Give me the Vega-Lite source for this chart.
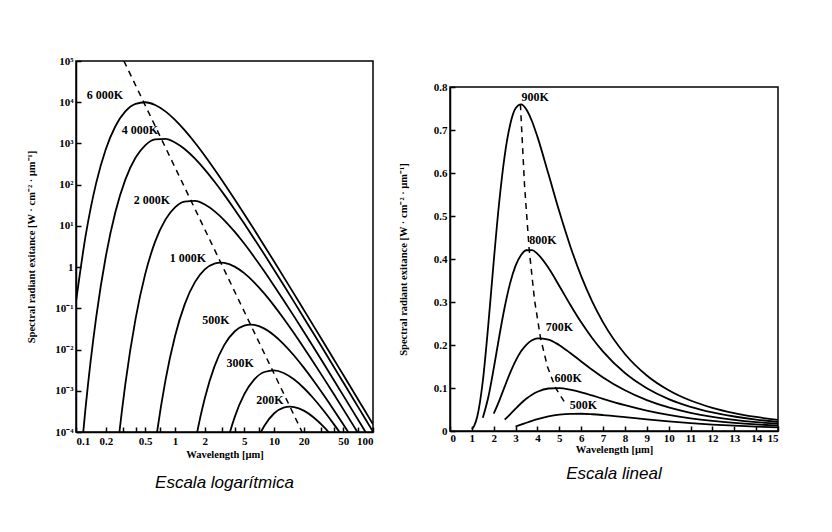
{
  "$schema": "https://vega.github.io/schema/vega-lite/v6.json",
  "background": "white",
  "autosize": {"type": "pad"},
  "padding": {"left": 25, "top": 54, "right": 5, "bottom": 5},
  "config": {
    "view": {"stroke": "black", "strokeWidth": 1.5},
    "axis": {
      "domainColor": "black", "domainWidth": 1.5,
      "tickColor": "black", "tickWidth": 1.5, "tickSize": -5,
      "labelColor": "black", "labelFont": "Liberation Serif", "labelFontWeight": "bold", "labelFontSize": 11,
      "titleColor": "black", "titleFont": "Liberation Serif", "titleFontWeight": "bold", "titleFontSize": 10.5,
      "grid": false, "labelOverlap": false
    },
    "title": {"font": "Liberation Sans", "fontStyle": "italic", "fontWeight": "normal", "fontSize": 17, "color": "black", "orient": "bottom"}
  },
  "datasets": {
    "logCurves": [
      {"T": "6000K", "lam": 0.1, "M": 0.144},
      {"T": "6000K", "lam": 0.125, "M": 5.71},
      {"T": "6000K", "lam": 0.16, "M": 110.5},
      {"T": "6000K", "lam": 0.2, "M": 726},
      {"T": "6000K", "lam": 0.25, "M": 2616},
      {"T": "6000K", "lam": 0.315, "M": 5966},
      {"T": "6000K", "lam": 0.4, "M": 9127},
      {"T": "6000K", "lam": 0.5, "M": 9975},
      {"T": "6000K", "lam": 0.63, "M": 8577},
      {"T": "6000K", "lam": 0.8, "M": 5997},
      {"T": "6000K", "lam": 1, "M": 3742},
      {"T": "6000K", "lam": 1.25, "M": 2110},
      {"T": "6000K", "lam": 1.6, "M": 1027},
      {"T": "6000K", "lam": 2, "M": 505},
      {"T": "6000K", "lam": 2.5, "M": 238},
      {"T": "6000K", "lam": 3.15, "M": 105.8},
      {"T": "6000K", "lam": 4, "M": 44.5},
      {"T": "6000K", "lam": 5, "M": 19.45},
      {"T": "6000K", "lam": 6.3, "M": 8.14},
      {"T": "6000K", "lam": 8, "M": 3.27},
      {"T": "6000K", "lam": 10, "M": 1.381},
      {"T": "6000K", "lam": 12.5, "M": 0.58},
      {"T": "6000K", "lam": 16, "M": 0.2208},
      {"T": "6000K", "lam": 20, "M": 0.0918},
      {"T": "6000K", "lam": 25, "M": 0.0381},
      {"T": "6000K", "lam": 31.5, "M": 0.01526},
      {"T": "6000K", "lam": 40, "M": 0.00591},
      {"T": "6000K", "lam": 50, "M": 0.002437},
      {"T": "6000K", "lam": 63, "M": 0.000972},
      {"T": "6000K", "lam": 80, "M": 0.000375},
      {"T": "6000K", "lam": 100, "M": 0.000154},
      {"T": "4000K", "lam": 0.1, "M": 8.9e-7},
      {"T": "4000K", "lam": 0.125, "M": 0.000391},
      {"T": "4000K", "lam": 0.16, "M": 0.0615},
      {"T": "4000K", "lam": 0.2, "M": 1.807},
      {"T": "4000K", "lam": 0.25, "M": 21.62},
      {"T": "4000K", "lam": 0.315, "M": 132.6},
      {"T": "4000K", "lam": 0.4, "M": 454.5},
      {"T": "4000K", "lam": 0.5, "M": 900},
      {"T": "4000K", "lam": 0.63, "M": 1254},
      {"T": "4000K", "lam": 0.8, "M": 1288},
      {"T": "4000K", "lam": 1, "M": 1054},
      {"T": "4000K", "lam": 1.25, "M": 731},
      {"T": "4000K", "lam": 1.6, "M": 421},
      {"T": "4000K", "lam": 2, "M": 232},
      {"T": "4000K", "lam": 2.5, "M": 119.2},
      {"T": "4000K", "lam": 3.15, "M": 56.6},
      {"T": "4000K", "lam": 4, "M": 25.06},
      {"T": "4000K", "lam": 5, "M": 11.37},
      {"T": "4000K", "lam": 6.3, "M": 4.9},
      {"T": "4000K", "lam": 8, "M": 2.012},
      {"T": "4000K", "lam": 10, "M": 0.864},
      {"T": "4000K", "lam": 12.5, "M": 0.368},
      {"T": "4000K", "lam": 16, "M": 0.1416},
      {"T": "4000K", "lam": 20, "M": 0.0594},
      {"T": "4000K", "lam": 25, "M": 0.02476},
      {"T": "4000K", "lam": 31.5, "M": 0.00998},
      {"T": "4000K", "lam": 40, "M": 0.003886},
      {"T": "4000K", "lam": 50, "M": 0.001605},
      {"T": "4000K", "lam": 63, "M": 0.000642},
      {"T": "4000K", "lam": 80, "M": 0.000248},
      {"T": "4000K", "lam": 100, "M": 0.000102},
      {"T": "2000K", "lam": 0.2, "M": 2.82e-8},
      {"T": "2000K", "lam": 0.25, "M": 0.00001219},
      {"T": "2000K", "lam": 0.315, "M": 0.001456},
      {"T": "2000K", "lam": 0.4, "M": 0.0565},
      {"T": "2000K", "lam": 0.5, "M": 0.6755},
      {"T": "2000K", "lam": 0.63, "M": 4.143},
      {"T": "2000K", "lam": 0.8, "M": 14.2},
      {"T": "2000K", "lam": 1, "M": 28.12},
      {"T": "2000K", "lam": 1.25, "M": 38.95},
      {"T": "2000K", "lam": 1.6, "M": 40.25},
      {"T": "2000K", "lam": 2, "M": 32.96},
      {"T": "2000K", "lam": 2.5, "M": 22.85},
      {"T": "2000K", "lam": 3.15, "M": 13.69},
      {"T": "2000K", "lam": 4, "M": 7.252},
      {"T": "2000K", "lam": 5, "M": 3.724},
      {"T": "2000K", "lam": 6.3, "M": 1.768},
      {"T": "2000K", "lam": 8, "M": 0.783},
      {"T": "2000K", "lam": 10, "M": 0.3553},
      {"T": "2000K", "lam": 12.5, "M": 0.1576},
      {"T": "2000K", "lam": 16, "M": 0.0629},
      {"T": "2000K", "lam": 20, "M": 0.02701},
      {"T": "2000K", "lam": 25, "M": 0.01149},
      {"T": "2000K", "lam": 31.5, "M": 0.004704},
      {"T": "2000K", "lam": 40, "M": 0.001855},
      {"T": "2000K", "lam": 50, "M": 0.000774},
      {"T": "2000K", "lam": 63, "M": 0.000312},
      {"T": "2000K", "lam": 80, "M": 0.0001214},
      {"T": "2000K", "lam": 100, "M": 0.0000502},
      {"T": "1000K", "lam": 0.5, "M": 3.8e-7},
      {"T": "1000K", "lam": 0.63, "M": 0.0000455},
      {"T": "1000K", "lam": 0.8, "M": 0.001765},
      {"T": "1000K", "lam": 1, "M": 0.02111},
      {"T": "1000K", "lam": 1.25, "M": 0.123},
      {"T": "1000K", "lam": 1.6, "M": 0.4437},
      {"T": "1000K", "lam": 2, "M": 0.879},
      {"T": "1000K", "lam": 2.5, "M": 1.217},
      {"T": "1000K", "lam": 2.9, "M": 1.286},
      {"T": "1000K", "lam": 3.15, "M": 1.266},
      {"T": "1000K", "lam": 4, "M": 1.03},
      {"T": "1000K", "lam": 5, "M": 0.714},
      {"T": "1000K", "lam": 6.3, "M": 0.4279},
      {"T": "1000K", "lam": 8, "M": 0.2266},
      {"T": "1000K", "lam": 10, "M": 0.1164},
      {"T": "1000K", "lam": 12.5, "M": 0.05675},
      {"T": "1000K", "lam": 16, "M": 0.02448},
      {"T": "1000K", "lam": 20, "M": 0.0111},
      {"T": "1000K", "lam": 25, "M": 0.004926},
      {"T": "1000K", "lam": 31.5, "M": 0.002085},
      {"T": "1000K", "lam": 40, "M": 0.000844},
      {"T": "1000K", "lam": 50, "M": 0.000359},
      {"T": "1000K", "lam": 63, "M": 0.000147},
      {"T": "1000K", "lam": 80, "M": 0.000058},
      {"T": "1000K", "lam": 100, "M": 0.0000242},
      {"T": "500K", "lam": 1.25, "M": 1.23e-6},
      {"T": "500K", "lam": 1.6, "M": 0.0000552},
      {"T": "500K", "lam": 1.8, "M": 0.000226},
      {"T": "500K", "lam": 2, "M": 0.00066},
      {"T": "500K", "lam": 2.5, "M": 0.003842},
      {"T": "500K", "lam": 3.15, "M": 0.01301},
      {"T": "500K", "lam": 4, "M": 0.02746},
      {"T": "500K", "lam": 5, "M": 0.03802},
      {"T": "500K", "lam": 5.8, "M": 0.0402},
      {"T": "500K", "lam": 6.3, "M": 0.03955},
      {"T": "500K", "lam": 8, "M": 0.03218},
      {"T": "500K", "lam": 10, "M": 0.02232},
      {"T": "500K", "lam": 12.5, "M": 0.01363},
      {"T": "500K", "lam": 16, "M": 0.007082},
      {"T": "500K", "lam": 20, "M": 0.003637},
      {"T": "500K", "lam": 25, "M": 0.001773},
      {"T": "500K", "lam": 31.5, "M": 0.000808},
      {"T": "500K", "lam": 40, "M": 0.000347},
      {"T": "500K", "lam": 50, "M": 0.0001539},
      {"T": "500K", "lam": 63, "M": 0.0000652},
      {"T": "300K", "lam": 2.5, "M": 1.78e-6},
      {"T": "300K", "lam": 3.15, "M": 0.0000295},
      {"T": "300K", "lam": 3.5, "M": 0.0000798},
      {"T": "300K", "lam": 4, "M": 0.0002268},
      {"T": "300K", "lam": 5, "M": 0.0008173},
      {"T": "300K", "lam": 6.3, "M": 0.001864},
      {"T": "300K", "lam": 8, "M": 0.002853},
      {"T": "300K", "lam": 10, "M": 0.003117},
      {"T": "300K", "lam": 12.5, "M": 0.002703},
      {"T": "300K", "lam": 16, "M": 0.001874},
      {"T": "300K", "lam": 20, "M": 0.001169},
      {"T": "300K", "lam": 25, "M": 0.0006594},
      {"T": "300K", "lam": 31.5, "M": 0.0003368},
      {"T": "300K", "lam": 40, "M": 0.0001577},
      {"T": "300K", "lam": 50, "M": 0.0000744},
      {"T": "200K", "lam": 6.3, "M": 0.0000414},
      {"T": "200K", "lam": 7, "M": 0.0000766},
      {"T": "200K", "lam": 8, "M": 0.000142},
      {"T": "200K", "lam": 10, "M": 0.0002812},
      {"T": "200K", "lam": 12.5, "M": 0.0003895},
      {"T": "200K", "lam": 14.5, "M": 0.0004117},
      {"T": "200K", "lam": 16, "M": 0.0004024},
      {"T": "200K", "lam": 20, "M": 0.0003296},
      {"T": "200K", "lam": 25, "M": 0.0002285},
      {"T": "200K", "lam": 31.5, "M": 0.0001369},
      {"T": "200K", "lam": 40, "M": 0.0000725}
    ],
    "wienLog": [
      {"lam": 0.3048, "M": 100000},
      {"lam": 19.23, "M": 0.0001}
    ],
    "labelsLog": [
      {"label": "6 000K", "lam": 0.196, "M": 15000},
      {"label": "4 000K", "lam": 0.443, "M": 2130},
      {"label": "2 000K", "lam": 0.586, "M": 42},
      {"label": "1 000K", "lam": 1.35, "M": 1.66},
      {"label": "500K", "lam": 2.59, "M": 0.051},
      {"label": "300K", "lam": 4.54, "M": 0.0047},
      {"label": "200K", "lam": 9.1, "M": 0.00059}
    ],
    "linCurves": [
      {"T": "900K", "lam": 1.0, "M": 0.0043},
      {"T": "900K", "lam": 1.1, "M": 0.0113},
      {"T": "900K", "lam": 1.25, "M": 0.0342},
      {"T": "900K", "lam": 1.5, "M": 0.1157},
      {"T": "900K", "lam": 1.75, "M": 0.246},
      {"T": "900K", "lam": 2, "M": 0.3948},
      {"T": "900K", "lam": 2.25, "M": 0.532},
      {"T": "900K", "lam": 2.5, "M": 0.6401},
      {"T": "900K", "lam": 2.75, "M": 0.7121},
      {"T": "900K", "lam": 3, "M": 0.7504},
      {"T": "900K", "lam": 3.25, "M": 0.7594},
      {"T": "900K", "lam": 3.5, "M": 0.7473},
      {"T": "900K", "lam": 3.75, "M": 0.7204},
      {"T": "900K", "lam": 4, "M": 0.684},
      {"T": "900K", "lam": 4.5, "M": 0.598},
      {"T": "900K", "lam": 5, "M": 0.5102},
      {"T": "900K", "lam": 5.5, "M": 0.4298},
      {"T": "900K", "lam": 6, "M": 0.3602},
      {"T": "900K", "lam": 6.5, "M": 0.3014},
      {"T": "900K", "lam": 7, "M": 0.2526},
      {"T": "900K", "lam": 8, "M": 0.1791},
      {"T": "900K", "lam": 9, "M": 0.1291},
      {"T": "900K", "lam": 10, "M": 0.0948},
      {"T": "900K", "lam": 11, "M": 0.0709},
      {"T": "900K", "lam": 12, "M": 0.0539},
      {"T": "900K", "lam": 13, "M": 0.0416},
      {"T": "900K", "lam": 14, "M": 0.0326},
      {"T": "900K", "lam": 15, "M": 0.0259},
      {"T": "800K", "lam": 1.5, "M": 0.0306},
      {"T": "800K", "lam": 1.75, "M": 0.0784},
      {"T": "800K", "lam": 2, "M": 0.1455},
      {"T": "800K", "lam": 2.25, "M": 0.2192},
      {"T": "800K", "lam": 2.5, "M": 0.2877},
      {"T": "800K", "lam": 2.75, "M": 0.3439},
      {"T": "800K", "lam": 3, "M": 0.3845},
      {"T": "800K", "lam": 3.25, "M": 0.4094},
      {"T": "800K", "lam": 3.5, "M": 0.4203},
      {"T": "800K", "lam": 3.75, "M": 0.4205},
      {"T": "800K", "lam": 4, "M": 0.412},
      {"T": "800K", "lam": 4.5, "M": 0.3797},
      {"T": "800K", "lam": 5, "M": 0.3374},
      {"T": "800K", "lam": 5.5, "M": 0.2937},
      {"T": "800K", "lam": 6, "M": 0.2527},
      {"T": "800K", "lam": 6.5, "M": 0.2163},
      {"T": "800K", "lam": 7, "M": 0.1846},
      {"T": "800K", "lam": 8, "M": 0.1348},
      {"T": "800K", "lam": 9, "M": 0.0994},
      {"T": "800K", "lam": 10, "M": 0.0742},
      {"T": "800K", "lam": 11, "M": 0.0563},
      {"T": "800K", "lam": 12, "M": 0.0433},
      {"T": "800K", "lam": 13, "M": 0.0337},
      {"T": "800K", "lam": 14, "M": 0.0266},
      {"T": "800K", "lam": 15, "M": 0.0213},
      {"T": "700K", "lam": 2, "M": 0.0402},
      {"T": "700K", "lam": 2.25, "M": 0.07},
      {"T": "700K", "lam": 2.5, "M": 0.1031},
      {"T": "700K", "lam": 2.75, "M": 0.1351},
      {"T": "700K", "lam": 3, "M": 0.1631},
      {"T": "700K", "lam": 3.25, "M": 0.1853},
      {"T": "700K", "lam": 3.5, "M": 0.201},
      {"T": "700K", "lam": 3.75, "M": 0.211},
      {"T": "700K", "lam": 4, "M": 0.2156},
      {"T": "700K", "lam": 4.5, "M": 0.2127},
      {"T": "700K", "lam": 5, "M": 0.1996},
      {"T": "700K", "lam": 5.5, "M": 0.1814},
      {"T": "700K", "lam": 6, "M": 0.1617},
      {"T": "700K", "lam": 6.5, "M": 0.1426},
      {"T": "700K", "lam": 7, "M": 0.1247},
      {"T": "700K", "lam": 8, "M": 0.0947},
      {"T": "700K", "lam": 9, "M": 0.0719},
      {"T": "700K", "lam": 10, "M": 0.0549},
      {"T": "700K", "lam": 11, "M": 0.0424},
      {"T": "700K", "lam": 12, "M": 0.0331},
      {"T": "700K", "lam": 13, "M": 0.0261},
      {"T": "700K", "lam": 14, "M": 0.0208},
      {"T": "700K", "lam": 15, "M": 0.0168},
      {"T": "600K", "lam": 2.5, "M": 0.0262},
      {"T": "600K", "lam": 2.75, "M": 0.0389},
      {"T": "600K", "lam": 3, "M": 0.052},
      {"T": "600K", "lam": 3.25, "M": 0.0645},
      {"T": "600K", "lam": 3.5, "M": 0.0755},
      {"T": "600K", "lam": 3.75, "M": 0.0843},
      {"T": "600K", "lam": 4, "M": 0.0912},
      {"T": "600K", "lam": 4.5, "M": 0.0988},
      {"T": "600K", "lam": 5, "M": 0.0998},
      {"T": "600K", "lam": 5.5, "M": 0.0962},
      {"T": "600K", "lam": 6, "M": 0.0901},
      {"T": "600K", "lam": 6.5, "M": 0.0827},
      {"T": "600K", "lam": 7, "M": 0.0748},
      {"T": "600K", "lam": 8, "M": 0.06},
      {"T": "600K", "lam": 9, "M": 0.0474},
      {"T": "600K", "lam": 10, "M": 0.0374},
      {"T": "600K", "lam": 11, "M": 0.0296},
      {"T": "600K", "lam": 12, "M": 0.0236},
      {"T": "600K", "lam": 13, "M": 0.0189},
      {"T": "600K", "lam": 14, "M": 0.0153},
      {"T": "600K", "lam": 15, "M": 0.0125},
      {"T": "500K", "lam": 3, "M": 0.0105},
      {"T": "500K", "lam": 3.25, "M": 0.0147},
      {"T": "500K", "lam": 3.5, "M": 0.0192},
      {"T": "500K", "lam": 3.75, "M": 0.0235},
      {"T": "500K", "lam": 4, "M": 0.0274},
      {"T": "500K", "lam": 4.5, "M": 0.0339},
      {"T": "500K", "lam": 5, "M": 0.038},
      {"T": "500K", "lam": 5.5, "M": 0.0399},
      {"T": "500K", "lam": 6, "M": 0.0401},
      {"T": "500K", "lam": 6.5, "M": 0.039},
      {"T": "500K", "lam": 7, "M": 0.0371},
      {"T": "500K", "lam": 8, "M": 0.0322},
      {"T": "500K", "lam": 9, "M": 0.027},
      {"T": "500K", "lam": 10, "M": 0.0223},
      {"T": "500K", "lam": 11, "M": 0.0183},
      {"T": "500K", "lam": 12, "M": 0.015},
      {"T": "500K", "lam": 13, "M": 0.0124},
      {"T": "500K", "lam": 14, "M": 0.0102},
      {"T": "500K", "lam": 15, "M": 0.0085}
    ],
    "wienLin": [
      {"lam": 3.22, "M": 0.76},
      {"lam": 3.409, "M": 0.571},
      {"lam": 3.6225, "M": 0.4216},
      {"lam": 3.864, "M": 0.3053},
      {"lam": 4.14, "M": 0.2162},
      {"lam": 4.458, "M": 0.1493},
      {"lam": 4.83, "M": 0.1},
      {"lam": 5.269, "M": 0.0648}
    ],
    "labelsLin": [
      {"label": "900K", "lam": 3.9, "M": 0.777},
      {"label": "800K", "lam": 4.25, "M": 0.444},
      {"label": "700K", "lam": 5.0, "M": 0.242},
      {"label": "600K", "lam": 5.4, "M": 0.124},
      {"label": "500K", "lam": 6.1, "M": 0.061}
    ]
  },
  "spacing": 22,
  "hconcat": [
    {
      "width": 297,
      "height": 371,
      "title": {"text": "Escala logarítmica", "orient": "bottom", "offset": 15},
      "encoding": {
        "x": {
          "field": "lam", "type": "quantitative",
          "scale": {"type": "log", "domain": [0.1, 100], "nice": false},
          "axis": {
            "title": "Wavelength [µm]",
            "values": [0.1, 0.2, 0.3, 0.4, 0.5, 0.7, 1, 2, 3, 4, 5, 7, 10, 20, 30, 40, 50, 70, 100],
            "labelExpr": "indexof([0.1, 0.2, 0.5, 1, 2, 5, 10, 20, 50, 100], datum.value) >= 0 ? format(datum.value, '~g') : ''",
            "labelOverlap": false,
            "labelPadding": 8,
            "titlePadding": 3
          }
        },
        "y": {
          "field": "M", "type": "quantitative",
          "scale": {"type": "log", "domain": [0.0001, 100000], "nice": false},
          "axis": {
            "title": "Spectral radiant exitance [W · cm⁻² · µm⁻¹]",
            "values": [0.0001, 0.001, 0.01, 0.1, 1, 10, 100, 1000, 10000, 100000],
            "labelExpr": "datum.value >= 99999 ? '10⁵' : datum.value >= 9999 ? '10⁴' : datum.value >= 999 ? '10³' : datum.value >= 99 ? '10²' : datum.value >= 9 ? '10¹' : datum.value >= 0.9 ? '1' : datum.value >= 0.09 ? '10⁻¹' : datum.value >= 0.009 ? '10⁻²' : datum.value >= 0.0009 ? '10⁻³' : '10⁻⁴'",
            "labelOverlap": false,
            "labelPadding": 8,
            "titlePadding": 18
          }
        }
      },
      "layer": [
        {
          "data": {"name": "logCurves"},
          "mark": {"type": "line", "clip": true, "color": "black", "strokeWidth": 1.8, "interpolate": "monotone"},
          "encoding": {"detail": {"field": "T"}}
        },
        {
          "data": {"name": "wienLog"},
          "mark": {"type": "line", "clip": true, "color": "black", "strokeWidth": 1.5, "strokeDash": [6, 5]},
          "encoding": {}
        },
        {
          "data": {"name": "labelsLog"},
          "mark": {"type": "text", "font": "Liberation Serif", "fontWeight": "bold", "fontSize": 12, "color": "black"},
          "encoding": {"text": {"field": "label"}}
        }
      ]
    },
    {
      "spacing": 0,
      "vconcat": [
        {
          "width": 1,
          "height": 19,
          "view": {"stroke": null},
          "data": {"values": [{}]},
          "mark": {"type": "point", "opacity": 0},
          "encoding": {}
        },
        {
          "width": 328,
          "height": 344,
          "title": {"text": "Escala lineal", "orient": "bottom", "offset": 11},
          "encoding": {
            "x": {
              "field": "lam", "type": "quantitative",
              "scale": {"domain": [0, 15], "nice": false},
              "axis": {"title": "Wavelength [µm]", "values": [0, 1, 2, 3, 4, 5, 6, 7, 8, 9, 10, 11, 12, 13, 14, 15], "format": "d", "labelOverlap": false, "labelPadding": 6, "titlePadding": 1}
            },
            "y": {
              "field": "M", "type": "quantitative",
              "scale": {"domain": [0, 0.8], "nice": false},
              "axis": {"title": "Spectral radiant exitance [W · cm⁻² · µm⁻¹]", "values": [0, 0.1, 0.2, 0.3, 0.4, 0.5, 0.6, 0.7, 0.8], "format": "~g", "labelOverlap": false, "labelPadding": 8, "titlePadding": 25}
            }
          },
          "layer": [
            {
              "data": {"name": "linCurves"},
              "mark": {"type": "line", "clip": true, "color": "black", "strokeWidth": 1.8, "interpolate": "monotone"},
              "encoding": {"detail": {"field": "T"}}
            },
            {
              "data": {"name": "wienLin"},
              "mark": {"type": "line", "clip": true, "color": "black", "strokeWidth": 1.5, "strokeDash": [6, 5]},
              "encoding": {}
            },
            {
              "data": {"name": "labelsLin"},
              "mark": {"type": "text", "font": "Liberation Serif", "fontWeight": "bold", "fontSize": 12, "color": "black"},
              "encoding": {"text": {"field": "label"}}
            }
          ]
        }
      ]
    }
  ]
}
